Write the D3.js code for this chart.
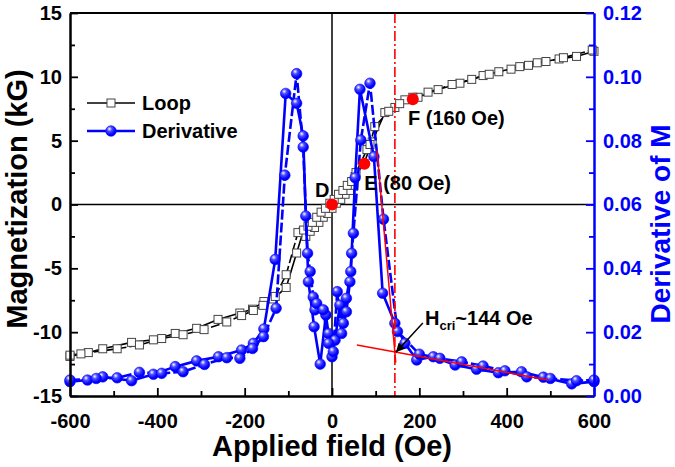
<!DOCTYPE html>
<html>
<head>
<meta charset="utf-8">
<script src="https://cdn.jsdelivr.net/npm/d3@7"></script>
<style>
body { margin: 0; background: #fff; }
svg { display: block; }
text { font-family: "Liberation Sans", Arial, sans-serif; font-weight: bold; }
</style>
</head>
<body>
<script>
// loop, branch A (solid) and branch B (dashed): field in Oe, magnetization in kG
var loopAField = [-600, -558, -525, -459, -409, -359, -310, -261, -211, -182, -156, -135, -105, -81,
  -66, -60, -50, -40, -30, -20, -10, 0, 10, 20, 30, 40, 50, 53, 73, 92, 121, 144, 167, 197, 243,
  293, 346, 382, 430, 470, 520, 560, 600];
var loopAMag = [-11.9, -11.6, -11.3, -10.8, -10.6, -10.1, -9.7, -9.0, -8.5, -8.2, -7.6, -7.4, -6.5, -3.8,
  -2.1, -2.5, -2.1, -1.8, -1.4, -1.0, -0.7, -0.3, 0.1, 0.4, 0.8, 1.1, 1.5, 2.2, 3.2, 4.9, 7.2, 7.6, 8.2, 8.4, 9.0,
  9.5, 10.1, 10.4, 10.8, 11.1, 11.4, 11.6, 12.0];
var loopBField = [-600, -575, -492, -441, -390, -341, -293, -241, -207, -180, -158, -130, -105, -78,
  -65, -55, -45, -35, -25, -15, -5, 5, 15, 25, 35, 45, 55, 80, 87, 98, 130, 155, 185, 220, 275, 320,
  360, 410, 450, 490, 530, 596];
var loopBMag = [-11.8, -11.7, -11.3, -11.0, -10.5, -10.2, -9.8, -9.2, -8.7, -8.3, -7.9, -7.2, -5.5, -2.2,
  -2.0, -1.7, -1.4, -1.0, -0.6, -0.3, 0.1, 0.4, 0.8, 1.1, 1.5, 1.8, 2.5, 4.3, 4.7, 6.1, 7.3, 7.9, 8.4, 8.8, 9.4,
  9.8, 10.2, 10.6, 10.9, 11.2, 11.5, 12.1];

// derivative of M, two branches
var derAField = [-600, -560, -525, -459, -409, -359, -310, -260, -207, -180, -156, -130, -106, -81, -66,
  -60, -54, -41, -27, -14, -8, 0, 7, 18, 26, 33, 43, 53, 64, 96, 116, 144, 167, 194, 232, 282, 331, 381,
  434, 484, 549, 600];
var derAVal = [0.0045, 0.0050, 0.0060, 0.0048, 0.0068, 0.0092, 0.0110, 0.0123, 0.0144, 0.0165, 0.0210,
  0.0428, 0.0948, 0.0917, 0.0815, 0.0564, 0.0358, 0.0217, 0.0100, 0.0254, 0.0196, 0.0123, 0.0175, 0.0285,
  0.0228, 0.0306, 0.0390, 0.0684, 0.0961, 0.0750, 0.0322, 0.0228, 0.0165, 0.0113, 0.0123, 0.0097, 0.0084,
  0.0073, 0.0076, 0.0059, 0.0038, 0.0045];
var derBField = [-600, -540, -492, -441, -390, -341, -292, -241, -211, -182, -157, -128, -108, -81, -66,
  -56, -50, -43, -39, -35, -20, -8, 3, 12, 22, 33, 41, 45, 49, 66, 87, 118, 150, 200, 247, 297, 346, 396,
  446, 500, 560, 600];
var derBVal = [0.0050, 0.0055, 0.0057, 0.0074, 0.0071, 0.0076, 0.0099, 0.0120, 0.0118, 0.0149, 0.0186,
  0.0275, 0.0692, 0.1010, 0.0780, 0.0447, 0.0390, 0.0310, 0.0270, 0.0290, 0.0270, 0.0165, 0.0139, 0.0327,
  0.0196, 0.0264, 0.0358, 0.0447, 0.0510, 0.0802, 0.0980, 0.0554, 0.0202, 0.0131, 0.0118, 0.0107, 0.0094,
  0.0079, 0.0060, 0.0055, 0.0048, 0.0050];

// marked points D, E, F (field, kG)
var pointNames = ['D', 'E (80 Oe)', 'F (160 Oe)'];
var pointField = [0, 74, 185];
var pointMag = [0, 3.2, 8.24];

// fitted lines on the derivative curve and H_cri
var steepField = [103, 146];
var steepVal = [0.077, 0.0105];
var tailField = [57, 495];
var tailVal = [0.016, 0.005];
var hCri = 144;

var xTicks = [-600, -400, -200, 0, 200, 400, 600];
var xMinor = [-500, -300, -100, 100, 300, 500];
var yLeftTicks = [-15, -10, -5, 0, 5, 10, 15];
var yLeftMinor = [-12.5, -7.5, -2.5, 2.5, 7.5, 12.5];
var yRightTicks = [0, 0.02, 0.04, 0.06, 0.08, 0.10, 0.12];
var yRightMinor = [0.01, 0.03, 0.05, 0.07, 0.09, 0.11];

var width = 675;
var height = 467;
var plotLeft = 70, plotRight = 594, plotTop = 13, plotBottom = 396;
var blue = '#0000ff';
var red = '#ff0000';

var svg = d3.select('body').append('svg')
  .attr('width', width)
  .attr('height', height);

var x = d3.scaleLinear().domain([-600, 600]).range([plotLeft, plotRight]);
var yL = d3.scaleLinear().domain([-15, 15]).range([plotBottom, plotTop]);
var yR = d3.scaleLinear().domain([0, 0.12]).range([plotBottom, plotTop]);

var defs = svg.append('defs');
var grad = defs.append('radialGradient').attr('id', 'ball')
  .attr('cx', '40%').attr('cy', '35%').attr('r', '65%')
  .attr('fx', '35%').attr('fy', '30%');
grad.append('stop').attr('offset', '0%').attr('stop-color', '#ffffff');
grad.append('stop').attr('offset', '35%').attr('stop-color', '#4d4dff');
grad.append('stop').attr('offset', '80%').attr('stop-color', blue);
defs.append('marker').attr('id', 'arrow')
  .attr('viewBox', '0 0 10 10').attr('refX', 10).attr('refY', 5)
  .attr('markerWidth', 9).attr('markerHeight', 9).attr('markerUnits', 'userSpaceOnUse')
  .attr('orient', 'auto')
  .append('path').attr('d', 'M0,0L10,5L0,10z').attr('fill', '#000');

// zero lines
svg.append('line')
  .attr('x1', plotLeft).attr('x2', plotRight).attr('y1', yL(0)).attr('y2', yL(0))
  .attr('stroke', '#000').attr('stroke-width', 1.5);
svg.append('line')
  .attr('x1', x(0)).attr('x2', x(0)).attr('y1', plotTop).attr('y2', plotBottom)
  .attr('stroke', '#000').attr('stroke-width', 1.5);

function pairs(a, b) { return a.map(function(v, i) { return [v, b[i]]; }); }

var loopA = pairs(loopAField, loopAMag);
var loopB = pairs(loopBField, loopBMag);
var derA = pairs(derAField, derAVal);
var derB = pairs(derBField, derBVal);

var lineL = d3.line().x(function(d) { return x(d[0]); }).y(function(d) { return yL(d[1]); });
var lineR = d3.line().x(function(d) { return x(d[0]); }).y(function(d) { return yR(d[1]); });

// loop
svg.append('path').attr('d', lineL(loopA)).attr('fill', 'none')
  .attr('stroke', '#000').attr('stroke-width', 1.6);
svg.append('path').attr('d', lineL(loopB)).attr('fill', 'none')
  .attr('stroke', '#000').attr('stroke-width', 1.6).attr('stroke-dasharray', '9,3');
svg.append('g').selectAll('rect').data(loopA.concat(loopB)).join('rect')
  .attr('x', function(d) { return x(d[0]) - 4; })
  .attr('y', function(d) { return yL(d[1]) - 4; })
  .attr('width', 8).attr('height', 8)
  .attr('fill', '#fff').attr('stroke', '#444').attr('stroke-width', 1);

// derivative
svg.append('path').attr('d', lineR(derA)).attr('fill', 'none')
  .attr('stroke', blue).attr('stroke-width', 2.6);
svg.append('path').attr('d', lineR(derB)).attr('fill', 'none')
  .attr('stroke', blue).attr('stroke-width', 2.6).attr('stroke-dasharray', '10,3');
svg.append('g').selectAll('circle').data(derA.concat(derB)).join('circle')
  .attr('cx', function(d) { return x(d[0]); })
  .attr('cy', function(d) { return yR(d[1]); })
  .attr('r', 5.3)
  .attr('fill', 'url(#ball)').attr('stroke', blue).attr('stroke-width', 0.6);

// red fit lines and H_cri marker
svg.append('line')
  .attr('x1', x(steepField[0])).attr('y1', yR(steepVal[0]))
  .attr('x2', x(steepField[1])).attr('y2', yR(steepVal[1]))
  .attr('stroke', red).attr('stroke-width', 1.5);
svg.append('line')
  .attr('x1', x(tailField[0])).attr('y1', yR(tailVal[0]))
  .attr('x2', x(tailField[1])).attr('y2', yR(tailVal[1]))
  .attr('stroke', red).attr('stroke-width', 1.5);
svg.append('line')
  .attr('x1', x(hCri)).attr('x2', x(hCri)).attr('y1', plotTop).attr('y2', plotBottom)
  .attr('stroke', red).attr('stroke-width', 1.6).attr('stroke-dasharray', '10,3,2,3');

// arrow and label
svg.append('line')
  .attr('x1', x(208)).attr('y1', yR(0.0229))
  .attr('x2', x(hCri) + 1).attr('y2', yR(0.0137))
  .attr('stroke', '#000').attr('stroke-width', 1.5).attr('marker-end', 'url(#arrow)');
var hLabel = svg.append('text').attr('x', x(213)).attr('y', yR(0.0222))
  .attr('font-size', 20);
hLabel.append('tspan').text('H');
hLabel.append('tspan').attr('font-size', 13).attr('dy', 5).text('cri');
hLabel.append('tspan').attr('dy', -5).text('~144 Oe');

// marked points
svg.append('g').selectAll('circle').data(pointField).join('circle')
  .attr('cx', function(d) { return x(d); })
  .attr('cy', function(d, i) { return yL(pointMag[i]); })
  .attr('r', 6).attr('fill', red);
var labelField = [-39, 74, 174];
var labelMag = [0.6, 1.13, 6.2];
svg.append('g').selectAll('text').data(pointNames).join('text')
  .attr('x', function(d, i) { return x(labelField[i]); })
  .attr('y', function(d, i) { return yL(labelMag[i]); })
  .attr('font-size', 20)
  .text(function(d) { return d; });

// axes
function styleAxis(g, color) {
  g.select('.domain').attr('stroke', color).attr('stroke-width', 2);
  g.selectAll('.tick line').attr('stroke', color).attr('stroke-width', 1.8);
  g.selectAll('.tick text').attr('fill', color)
    .attr('font-size', 20).attr('font-family', '"Liberation Sans", Arial, sans-serif')
    .attr('font-weight', 'bold');
}

var xAxis = svg.append('g').attr('transform', 'translate(0,' + plotBottom + ')')
  .call(d3.axisBottom(x).tickValues(xTicks).tickSizeInner(-8).tickSizeOuter(0)
    .tickPadding(18).tickFormat(function(d) { return String(d); }));
styleAxis(xAxis, '#000');
var xMinorAxis = svg.append('g').attr('transform', 'translate(0,' + plotBottom + ')')
  .call(d3.axisBottom(x).tickValues(xMinor).tickSizeInner(-5).tickSizeOuter(0).tickFormat(''));
styleAxis(xMinorAxis, '#000');

svg.append('line').attr('x1', plotLeft).attr('x2', plotRight).attr('y1', plotTop).attr('y2', plotTop)
  .attr('stroke', '#000').attr('stroke-width', 2);

var yAxisL = svg.append('g').attr('transform', 'translate(' + plotLeft + ',0)')
  .call(d3.axisLeft(yL).tickValues(yLeftTicks).tickSizeInner(-8).tickSizeOuter(0)
    .tickPadding(8).tickFormat(function(d) { return String(d); }));
styleAxis(yAxisL, '#000');
var yMinorL = svg.append('g').attr('transform', 'translate(' + plotLeft + ',0)')
  .call(d3.axisLeft(yL).tickValues(yLeftMinor).tickSizeInner(-5).tickSizeOuter(0).tickFormat(''));
styleAxis(yMinorL, '#000');

var yAxisR = svg.append('g').attr('transform', 'translate(' + plotRight + ',0)')
  .call(d3.axisRight(yR).tickValues(yRightTicks).tickSizeInner(-8).tickSizeOuter(0)
    .tickPadding(9).tickFormat(d3.format('.2f')));
styleAxis(yAxisR, blue);
var yMinorR = svg.append('g').attr('transform', 'translate(' + plotRight + ',0)')
  .call(d3.axisRight(yR).tickValues(yRightMinor).tickSizeInner(-5).tickSizeOuter(0).tickFormat(''));
styleAxis(yMinorR, blue);

// axis titles
svg.append('text').attr('x', (plotLeft + plotRight) / 2).attr('y', 456)
  .attr('text-anchor', 'middle').attr('font-size', 29).text('Applied field (Oe)');
svg.append('text').attr('transform', 'translate(27,199) rotate(-90)')
  .attr('text-anchor', 'middle').attr('font-size', 29).text('Magnetization (kG)');
svg.append('text').attr('transform', 'translate(670,224) rotate(-90)')
  .attr('text-anchor', 'middle').attr('font-size', 28).attr('fill', blue).text('Derivative of M');

// legend
var legend = svg.append('g');
legend.append('line').attr('x1', 87).attr('x2', 135).attr('y1', 103).attr('y2', 103)
  .attr('stroke', '#000').attr('stroke-width', 1.6);
legend.append('rect').attr('x', 107).attr('y', 99).attr('width', 8).attr('height', 8)
  .attr('fill', '#fff').attr('stroke', '#444');
legend.append('text').attr('x', 142).attr('y', 110).attr('font-size', 20).text('Loop');
legend.append('line').attr('x1', 87).attr('x2', 135).attr('y1', 131).attr('y2', 131)
  .attr('stroke', blue).attr('stroke-width', 2.6);
legend.append('circle').attr('cx', 111).attr('cy', 131).attr('r', 5.3)
  .attr('fill', 'url(#ball)').attr('stroke', blue).attr('stroke-width', 0.6);
legend.append('text').attr('x', 142).attr('y', 138).attr('font-size', 20).text('Derivative');
</script>
</body>
</html>
